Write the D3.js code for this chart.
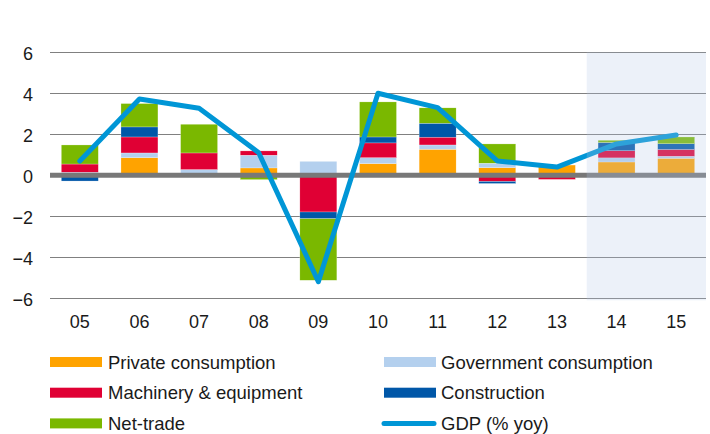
<!DOCTYPE html>
<html>
<head>
<meta charset="utf-8">
<script src="https://cdn.jsdelivr.net/npm/d3@7"></script>
<style>
  body { margin: 0; background: #fff; }
  text { font-family: "Liberation Sans", Arial, sans-serif; fill: #1a1a1a; }
</style>
</head>
<body>
<svg id="chart" width="710" height="434"></svg>
<script>
const years = ['05', '06', '07', '08', '09', '10', '11', '12', '13', '14', '15'];
const forecastYears = ['14', '15'];

const privateConsumption = [0, 0.86, 0, 0.36, 0, 0.57, 1.27, 0.37, 0.5, 0.65, 0.83];
const governmentConsumption = [0.15, 0.23, 0.28, 0.62, 0.68, 0.29, 0.21, 0.22, 0, 0.2, 0.1];
const machinery = [0.4, 0.78, 0.81, 0.21, -1.79, 0.72, 0.38, -0.3, -0.2, 0.35, 0.33];
const construction = [-0.28, 0.49, 0, 0, -0.33, 0.29, 0.68, -0.1, 0, 0.4, 0.28];
const netTrade = [0.93, 1.14, 1.4, -0.21, -3.0, 1.71, 0.75, 0.94, 0, 0.11, 0.33];
const gdp = [0.7, 3.72, 3.27, 1.1, -5.19, 4.0, 3.3, 0.7, 0.4, 1.53, 1.97];

const yTicks = [-6, -4, -2, 0, 2, 4, 6];

const seriesNames = ['Private consumption', 'Government consumption', 'Machinery & equipment', 'Construction', 'Net-trade'];
const seriesValues = [privateConsumption, governmentConsumption, machinery, construction, netTrade];
const seriesColors = ['#ffa300', '#b4d0ee', '#e00034', '#0057a8', '#7ab800'];
const gdpColor = '#0096d6';

const plotLeft = 50;
const plotRight = 706;
const plotTop = 52.3;
const plotBottom = 298.3;

const svg = d3.select('#chart');

const xscale = d3.scaleBand()
  .domain(years)
  .range([plotLeft, plotRight])
  .paddingInner(0.38)
  .paddingOuter(0.19);

const yscale = d3.scaleLinear()
  .domain([-6, 6])
  .range([plotBottom, plotTop]);

// grid lines
svg.append('g')
  .selectAll('line')
  .data(yTicks.filter((t) => t !== 0))
  .enter()
  .append('line')
  .attr('x1', plotLeft)
  .attr('x2', plotRight)
  .attr('y1', (d) => Math.round(yscale(d)) + 0.5)
  .attr('y2', (d) => Math.round(yscale(d)) + 0.5)
  .attr('stroke', '#808080')
  .attr('stroke-width', 1);

// y axis labels
const leftAxis = d3.axisLeft(yscale).tickValues(yTicks).tickSize(0).tickPadding(0);
const yAxis = svg.append('g')
  .attr('transform', `translate(33, 0)`)
  .call(leftAxis);
yAxis.select('.domain').remove();
yAxis.selectAll('text')
  .style('font-size', '18px')
  .attr('dy', '0.42em')
  .attr('fill', '#1a1a1a');

// x axis labels
const bottomAxis = d3.axisBottom(xscale).tickSize(0).tickPadding(0);
const xAxis = svg.append('g')
  .attr('transform', `translate(0, 315)`)
  .call(bottomAxis);
xAxis.select('.domain').remove();
xAxis.selectAll('text')
  .style('font-size', '18px')
  .attr('dy', '0.72em')
  .attr('fill', '#1a1a1a');

// stacked bars
const table = years.map((year, i) => {
  const row = { year: year };
  seriesNames.forEach((name, j) => { row[name] = seriesValues[j][i]; });
  return row;
});

const stack = d3.stack()
  .keys(seriesNames)
  .offset(d3.stackOffsetDiverging);

const stacked = stack(table);

svg.append('g')
  .selectAll('g')
  .data(stacked)
  .enter()
  .append('g')
  .attr('fill', (d, i) => seriesColors[i])
  .selectAll('rect')
  .data((d) => d.filter((p) => p[1] !== p[0]))
  .enter()
  .append('rect')
  .attr('x', (d) => xscale(d.data.year))
  .attr('y', (d) => yscale(Math.max(d[0], d[1])))
  .attr('width', xscale.bandwidth())
  .attr('height', (d) => Math.abs(yscale(d[0]) - yscale(d[1])))
  .attr('stroke', '#ffffff')
  .attr('stroke-width', 0.4)
  .attr('stroke-opacity', 0.6);

// zero line
svg.append('line')
  .attr('x1', plotLeft)
  .attr('x2', plotRight)
  .attr('y1', yscale(0))
  .attr('y2', yscale(0))
  .attr('stroke', '#787878')
  .attr('stroke-width', 5);

// GDP line
const line = d3.line()
  .x((d, i) => xscale(years[i]) + xscale.bandwidth() / 2)
  .y((d) => yscale(d));

svg.append('path')
  .datum(gdp)
  .attr('d', line)
  .attr('fill', 'none')
  .attr('stroke', gdpColor)
  .attr('stroke-width', 5)
  .attr('stroke-linecap', 'round')
  .attr('stroke-linejoin', 'round');

// forecast shading
const step = xscale.step();
const shadeX = xscale(forecastYears[0]) - step * xscale.paddingInner() / 2;
svg.append('rect')
  .attr('x', shadeX)
  .attr('y', yscale(6))
  .attr('width', plotRight - shadeX)
  .attr('height', yscale(-6) - yscale(6) + 2)
  .attr('fill', 'rgb(179, 199, 232)')
  .attr('fill-opacity', 0.25);

// legend
const legendItems = [
  { name: 'Private consumption', color: seriesColors[0], type: 'bar' },
  { name: 'Government consumption', color: seriesColors[1], type: 'bar' },
  { name: 'Machinery & equipment', color: seriesColors[2], type: 'bar' },
  { name: 'Construction', color: seriesColors[3], type: 'bar' },
  { name: 'Net-trade', color: seriesColors[4], type: 'bar' },
  { name: 'GDP (% yoy)', color: gdpColor, type: 'line' }
];

const legend = svg.append('g');
const item = legend.selectAll('g')
  .data(legendItems)
  .enter()
  .append('g')
  .attr('transform', (d, i) => `translate(${i % 2 === 0 ? 50 : 384}, ${362 + Math.floor(i / 2) * 30.7})`);

item.filter((d) => d.type === 'bar')
  .append('rect')
  .attr('x', 0)
  .attr('y', -5)
  .attr('width', 52)
  .attr('height', 10)
  .attr('fill', (d) => d.color);

item.filter((d) => d.type === 'line')
  .append('line')
  .attr('x1', 0)
  .attr('x2', 50)
  .attr('y1', 0)
  .attr('y2', 0)
  .attr('stroke', (d) => d.color)
  .attr('stroke-width', 5)
  .attr('stroke-linecap', 'round');

item.append('text')
  .attr('x', (d, i) => i % 2 === 0 ? 58 : 57)
  .attr('y', 6.5)
  .style('font-size', '18.5px')
  .text((d) => d.name);
</script>
</body>
</html>
